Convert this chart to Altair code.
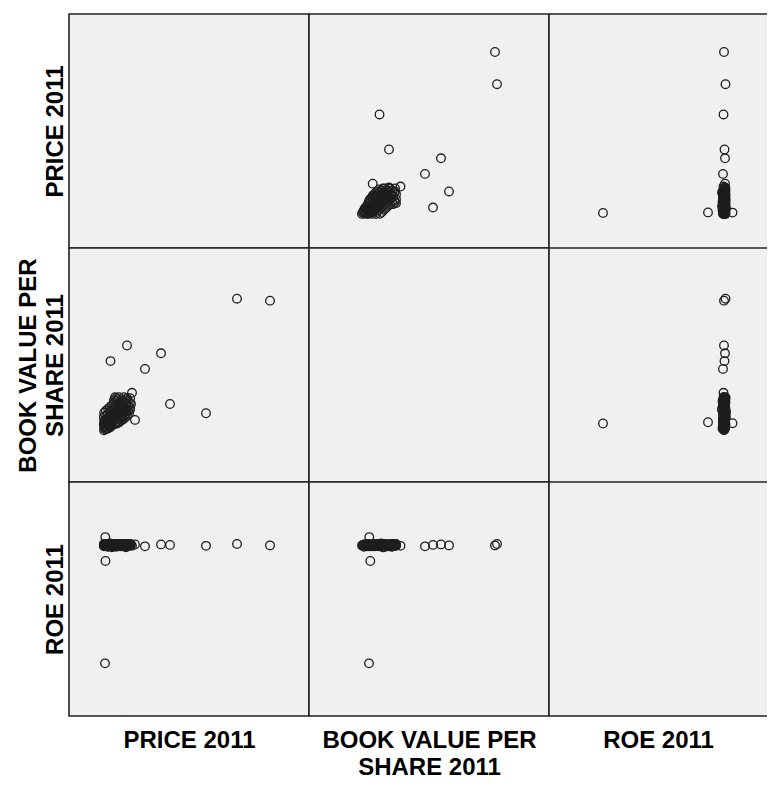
import altair as alt
import pandas as pd

# ---- data ----
# dense cluster of ordinary firms
cl_price = [500, 560, 440, 520, 470, 540,
            1100, 1040, 1160, 1080, 1130, 1060,
            1700, 1760, 1650, 1720, 1680, 1740,
            2300, 2250, 2360, 2280, 2330, 2270,
            2900, 2950, 2860, 2920, 2880, 2960,
            3500, 3450, 3560, 3480, 3530, 3470,
            4100, 4150, 4060, 4120, 4080, 4140,
            4700, 4650, 4760, 4680, 4730, 4670,
            5300, 5350, 5260, 5320, 5280,
            5900, 5850, 5960, 5880, 5930,
            6500, 6550, 6460, 6520,
            7100, 7050, 7160, 7080,
            7700, 7750, 7660,
            8300, 8250, 8360,
            800, 830, 770, 1400, 1370, 1430, 2000, 2040, 2600, 2570,
            4400, 5000, 5600, 6200, 6800, 7400, 8000, 8300, 7100, 5900,
            3500, 4100, 5000, 6500, 7400, 8600]
cl_bvps = [300, 600, 900, 1300, 1700, 2100,
           400, 700, 1000, 1400, 1800, 2300,
           500, 800, 1200, 1600, 2000, 2500,
           600, 1000, 1400, 1800, 2200, 2700,
           800, 1200, 1600, 2000, 2400, 2900,
           900, 1300, 1700, 2100, 2600, 3100,
           1100, 1500, 1900, 2300, 2800, 3300,
           1200, 1600, 2100, 2500, 3000, 3500,
           1400, 1800, 2300, 2700, 3200,
           1600, 2000, 2500, 2900, 3400,
           1800, 2300, 2700, 3200,
           2000, 2500, 3000, 3500,
           2300, 2800, 3300,
           2600, 3100, 3600,
           400, 700, 1100, 500, 900, 1300, 700, 1100, 900, 1400,
           1000, 1100, 1300, 1400, 1600, 1800, 2000, 2400, 2200, 1800,
           3400, 3600, 3700, 3700, 3600, 3000]
cl_roe = [0.02, 0.04, 0.01, 0.03, 0.05, 0.00, 0.03, 0.02, 0.04, 0.01,
          0.05, 0.02, -0.01, 0.03, 0.04, 0.02, 0.00, 0.05, 0.01, 0.03,
          0.04, 0.02, 0.06, 0.01, 0.03, 0.00, 0.02, 0.04, -0.02, 0.03,
          0.05, 0.01, 0.02, 0.04, 0.03, 0.00, 0.02, 0.05, 0.01, 0.03,
          0.04, -0.01, 0.02, 0.03, 0.05, 0.01, 0.04, 0.02, 0.00, 0.03,
          0.02, 0.04, 0.01, 0.05, 0.03, 0.02, 0.00, 0.04, 0.03, 0.01,
          0.02, 0.05, 0.03, -0.02, 0.04, 0.01, 0.02, 0.03, 0.00, 0.04,
          0.02, 0.05, 0.01, 0.03, 0.02, 0.04, 0.00, 0.03, 0.01, 0.02,
          0.04, 0.03,
          0.01, 0.03, 0.02, 0.04, 0.00, 0.05, 0.02, 0.03, 0.01, 0.04,
          0.02, 0.03, 0.05, 0.01, 0.02, 0.04]

# distinct firms
ex_price = [50300, 40400, 31100, 20300, 17600, 12800, 7400, 2450, 8900, 9800, 3800,
            800, 950, 890]
ex_bvps = [13600, 13800, 2050, 3000, 8200, 6600, 9000, 7400, 4150, 1370, 3700,
           1000, 1130, 1030]
ex_roe = [0.02, 0.05, 0.01, 0.03, 0.04, 0.00, 0.02, 0.03, 0.01, 0.04, 0.02,
          -2.40, -0.30, 0.19]

price = cl_price + ex_price
bvps = cl_bvps + ex_bvps
roe = cl_roe + ex_roe

df = pd.DataFrame({"price": price, "bvps": bvps, "roe": roe})
edge = pd.DataFrame({"e": [0]})

variables = ["price", "bvps", "roe"]
titles = {
    "price": "PRICE 2011",
    "bvps": ["BOOK VALUE PER", "SHARE 2011"],
    "roe": "ROE 2011",
}
widths = {"price": 240, "bvps": 240, "roe": 218}
H = 234
dom_x = {"price": [-10000, 62000], "bvps": [-5000, 19000], "roe": [-3.48, 0.88]}
dom_y = {"price": [-10000, 62000], "bvps": [-5000, 19000], "roe": [-3.48, 1.32]}

FONT = "Liberation Sans"
BORDER = "#222222"
BW = 1.6

panels = []
for i, rv in enumerate(variables):
    for j, cv in enumerate(variables):
        if i == 2:
            xax = alt.Axis(title=titles[cv], labels=False, ticks=False, domain=False,
                           grid=False, titlePadding=12)
        else:
            xax = None
        if j == 0:
            yax = alt.Axis(title=titles[rv], labels=False, ticks=False, domain=False,
                           grid=False, titlePadding=2)
        else:
            yax = None
        op = 0 if i == j else 1
        pts = alt.Chart(df).mark_point(
            filled=False, size=74, strokeWidth=1.3, color="#1e1e1e", opacity=op
        ).encode(
            x=alt.X(f"{cv}:Q", scale=alt.Scale(domain=dom_x[cv], nice=False, zero=False),
                    axis=xax),
            y=alt.Y(f"{rv}:Q", scale=alt.Scale(domain=dom_y[rv], nice=False, zero=False),
                    axis=yax),
        )
        if j == 2:
            # the right-hand column runs off the page: no right border
            top = alt.Chart(edge).mark_rule(color=BORDER, strokeWidth=BW).encode(
                x=alt.value(0), x2=alt.value(widths[cv]), y=alt.value(0)
            )
            left = alt.Chart(edge).mark_rule(color=BORDER, strokeWidth=BW).encode(
                x=alt.value(0), y=alt.value(0), y2=alt.value(H)
            )
            layers = [pts, top, left]
            if i == 2:
                bottom = alt.Chart(edge).mark_rule(color=BORDER, strokeWidth=BW).encode(
                    x=alt.value(0), x2=alt.value(widths[cv]), y=alt.value(H)
                )
                layers.append(bottom)
            c = alt.layer(*layers).properties(
                width=widths[cv], height=H,
                view=alt.ViewBackground(fill="#f0f0f0", strokeOpacity=0),
            )
        else:
            c = pts.properties(width=widths[cv], height=H)
        panels.append(c)

chart = alt.concat(*panels, columns=3, spacing=0, bounds="flush").resolve_scale(
    x="independent", y="independent"
).properties(
    padding={"left": 7, "top": 5, "right": 0, "bottom": 0}
).configure_view(
    fill="#f0f0f0", stroke=BORDER, strokeWidth=BW
).configure_axis(
    titleFont=FONT, titleFontSize=24, titleFontWeight="bold", titleColor="#000000",
    titleLineHeight=27
)

chart.save("out.html", embed_options={"renderer": "svg", "actions": False})
